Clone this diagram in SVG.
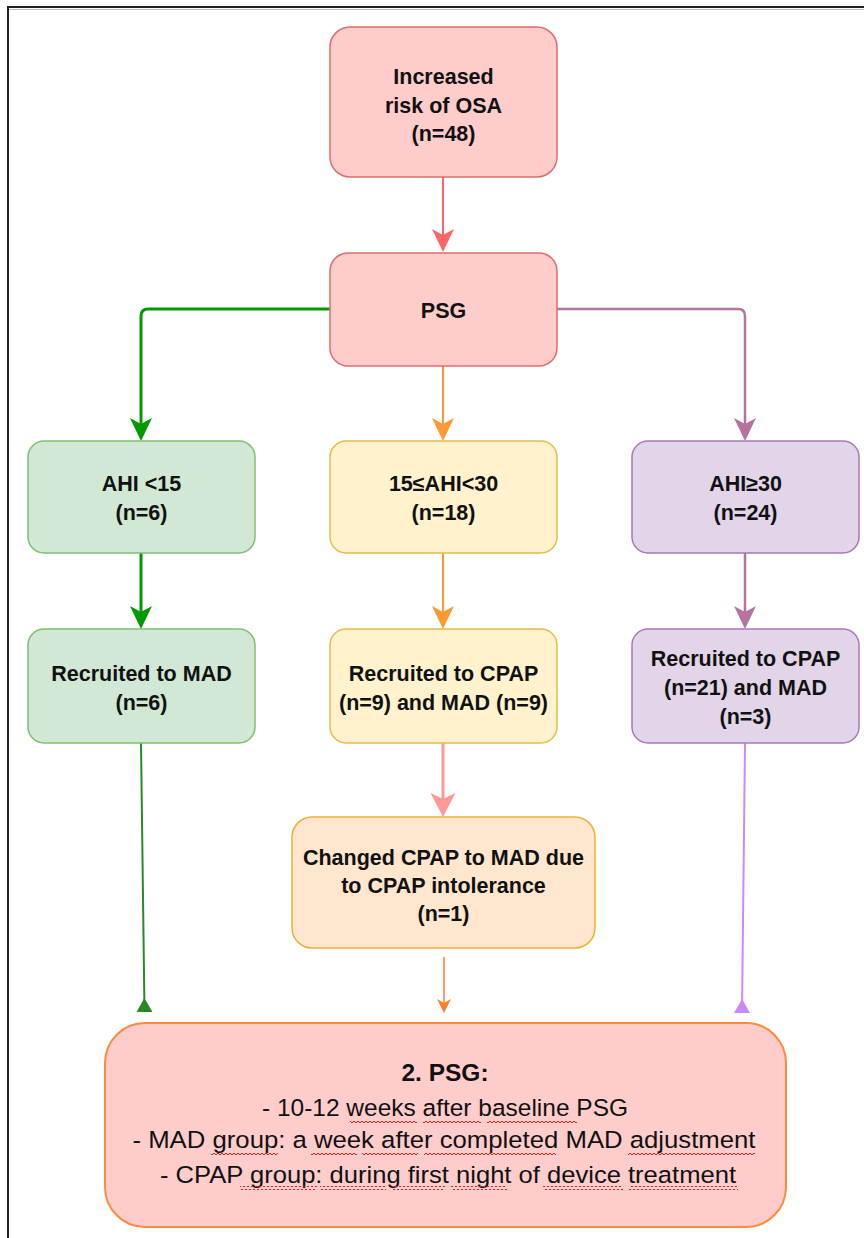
<svg xmlns="http://www.w3.org/2000/svg" width="864" height="1238" viewBox="0 0 864 1238">
<defs>
<style>
.t{font-family:"Liberation Sans",Arial,sans-serif;font-weight:bold;font-size:21.5px;fill:#111;text-anchor:middle}
.b{font-family:"Liberation Sans",Arial,sans-serif;font-size:24.5px;fill:#111;text-anchor:middle}
.red{fill:#ffcccc;stroke:#e06c6c;stroke-width:1.5}
.green{fill:#d0e8d4;stroke:#7fbf70;stroke-width:1.5}
.yellow{fill:#fff2cc;stroke:#e8bb4a;stroke-width:1.5}
.purple{fill:#e3d5e9;stroke:#a878b8;stroke-width:1.5}
.orange{fill:#ffe6cc;stroke:#efb030;stroke-width:1.5}
.final{fill:#ffcccc;stroke:#ff8a3d;stroke-width:2}
.c{fill:none}
</style>
<marker id="aRed" markerUnits="userSpaceOnUse" markerWidth="23" markerHeight="22" viewBox="0 0 23 22" refX="6" refY="11" orient="auto"><path d="M0,0 L23,11 L0,22 L6,11 Z" fill="#ff6666"/></marker>
<marker id="aGreen" markerUnits="userSpaceOnUse" markerWidth="23" markerHeight="22" viewBox="0 0 23 22" refX="6" refY="11" orient="auto"><path d="M0,0 L23,11 L0,22 L6,11 Z" fill="#009900"/></marker>
<marker id="aOrange" markerUnits="userSpaceOnUse" markerWidth="23" markerHeight="22" viewBox="0 0 23 22" refX="6" refY="11" orient="auto"><path d="M0,0 L23,11 L0,22 L6,11 Z" fill="#ff9933"/></marker>
<marker id="aPurple" markerUnits="userSpaceOnUse" markerWidth="23" markerHeight="22" viewBox="0 0 23 22" refX="6" refY="11" orient="auto"><path d="M0,0 L23,11 L0,22 L6,11 Z" fill="#b5739d"/></marker>
<marker id="aPink" markerUnits="userSpaceOnUse" markerWidth="24" markerHeight="25" viewBox="0 0 24 25" refX="6" refY="12.5" orient="auto"><path d="M0,0 L24,12.5 L0,25 L6,12.5 Z" fill="#ff9999"/></marker>
<marker id="aOrSmall" markerUnits="userSpaceOnUse" markerWidth="14" markerHeight="14" viewBox="0 0 14 14" refX="4" refY="7" orient="auto"><path d="M0,0 L14,7 L0,14 L4,7 Z" fill="#ff7f2a"/></marker>
<marker id="tGreen" markerUnits="userSpaceOnUse" markerWidth="14" markerHeight="16" viewBox="0 0 14 16" refX="14" refY="8" orient="auto"><path d="M0,8 L14,0 L14,16 Z" fill="#2a8a2a"/></marker>
<marker id="tPurple" markerUnits="userSpaceOnUse" markerWidth="14" markerHeight="16" viewBox="0 0 14 16" refX="14" refY="8" orient="auto"><path d="M0,8 L14,0 L14,16 Z" fill="#cc88ff"/></marker>
<pattern id="wave" patternUnits="userSpaceOnUse" width="4" height="4"><path d="M0,3 L2,1 L4,3" fill="none" stroke="#e02020" stroke-width="1"/></pattern>
</defs>
<rect width="864" height="1238" fill="#ffffff"/>
<rect x="8" y="7" width="880" height="1260" fill="none" stroke="#222" stroke-width="2"/>
<line x1="9" y1="9.5" x2="864" y2="9.5" stroke="#bbb" stroke-width="1"/>

<g id="connectors">
<path class="c" d="M443,177 V235" stroke="#ff6666" stroke-width="2" marker-end="url(#aRed)"/>
<path class="c" d="M330,309 H148 Q141,309 141,316 V424" stroke="#009900" stroke-width="3" marker-end="url(#aGreen)"/>
<path class="c" d="M443,366 V424" stroke="#ff9933" stroke-width="2" marker-end="url(#aOrange)"/>
<path class="c" d="M557,309 H738 Q745,309 745,316 V424" stroke="#b5739d" stroke-width="2.5" marker-end="url(#aPurple)"/>
<path class="c" d="M141,553 V612" stroke="#009900" stroke-width="3" marker-end="url(#aGreen)"/>
<path class="c" d="M443,553 V612" stroke="#ff9933" stroke-width="2" marker-end="url(#aOrange)"/>
<path class="c" d="M745,553 V612" stroke="#b5739d" stroke-width="2.5" marker-end="url(#aPurple)"/>
<path class="c" d="M443,743 V799" stroke="#ff9999" stroke-width="3" marker-end="url(#aPink)"/>
<path class="c" d="M444,957 V1003" stroke="#ff7f2a" stroke-width="1.5" marker-end="url(#aOrSmall)"/>
<path class="c" d="M141,743 L144.5,1012" stroke="#2a8a2a" stroke-width="2" marker-end="url(#tGreen)"/>
<path class="c" d="M745,743 L742,1013" stroke="#cc88ff" stroke-width="2" marker-end="url(#tPurple)"/>
</g>

<g id="n-risk">
<rect class="red" x="330" y="27" width="227" height="150" rx="20"/>
<text class="t" x="443.5" y="84">Increased</text>
<text class="t" x="443.5" y="112.5">risk of OSA</text>
<text class="t" x="443.5" y="141">(n=48)</text>
</g>
<g id="n-psg">
<rect class="red" x="330" y="253" width="227" height="113" rx="18"/>
<text class="t" x="443.5" y="318">PSG</text>
</g>
<g id="n-ahi-low">
<rect class="green" x="28" y="441" width="227" height="112" rx="16"/>
<text class="t" x="141.5" y="491">AHI &lt;15</text>
<text class="t" x="141.5" y="520">(n=6)</text>
</g>
<g id="n-ahi-mid">
<rect class="yellow" x="330" y="441" width="227" height="112" rx="16"/>
<text class="t" x="443.5" y="491">15≤AHI&lt;30</text>
<text class="t" x="443.5" y="520">(n=18)</text>
</g>
<g id="n-ahi-high">
<rect class="purple" x="632" y="441" width="227" height="112" rx="16"/>
<text class="t" x="745.5" y="491">AHI≥30</text>
<text class="t" x="745.5" y="520">(n=24)</text>
</g>
<g id="n-rec-mad">
<rect class="green" x="28" y="629" width="227" height="114" rx="16"/>
<text class="t" x="141.5" y="681">Recruited to MAD</text>
<text class="t" x="141.5" y="710">(n=6)</text>
</g>
<g id="n-rec-mid">
<rect class="yellow" x="330" y="629" width="227" height="114" rx="16"/>
<text class="t" x="443.5" y="681">Recruited to CPAP</text>
<text class="t" x="443.5" y="710">(n=9) and MAD (n=9)</text>
</g>
<g id="n-rec-high">
<rect class="purple" x="632" y="629" width="227" height="114" rx="16"/>
<text class="t" x="745.5" y="666">Recruited to CPAP</text>
<text class="t" x="745.5" y="695">(n=21) and MAD</text>
<text class="t" x="745.5" y="724">(n=3)</text>
</g>
<g id="n-changed">
<rect class="orange" x="292" y="817" width="303" height="131" rx="20"/>
<text class="t" x="443.5" y="865">Changed CPAP to MAD due</text>
<text class="t" x="443.5" y="893">to CPAP intolerance</text>
<text class="t" x="443.5" y="921">(n=1)</text>
</g>
<g id="n-psg2">
<rect class="final" x="105" y="1023" width="681" height="204" rx="40"/>
<text class="b" x="445" y="1081" font-weight="bold">2. PSG:</text>
<text class="b" x="445" y="1116" textLength="366" lengthAdjust="spacingAndGlyphs">- 10-12 weeks after baseline PSG</text>
<text class="b" x="444" y="1148" textLength="623" lengthAdjust="spacingAndGlyphs">- MAD group: a week after completed MAD adjustment</text>
<text class="b" x="448" y="1183" textLength="576" lengthAdjust="spacingAndGlyphs">- CPAP group: during first night of device treatment</text>
<g fill="url(#wave)">
<rect x="350" y="1119" width="67" height="4"/>
<rect x="423" y="1119" width="58" height="4"/>
<rect x="487" y="1119" width="90" height="4"/>
<rect x="211" y="1151" width="67" height="4"/>
<rect x="311" y="1151" width="46" height="4"/>
<rect x="362" y="1151" width="56" height="4"/>
<rect x="424" y="1151" width="132" height="4"/>
<rect x="628" y="1151" width="127" height="4"/>
<rect x="240" y="1186" width="77" height="4"/>
<rect x="320" y="1186" width="66" height="4"/>
<rect x="392" y="1186" width="53" height="4"/>
<rect x="451" y="1186" width="56" height="4"/>
<rect x="543" y="1186" width="80" height="4"/>
<rect x="629" y="1186" width="109" height="4"/>
</g>
</g>
</svg>
